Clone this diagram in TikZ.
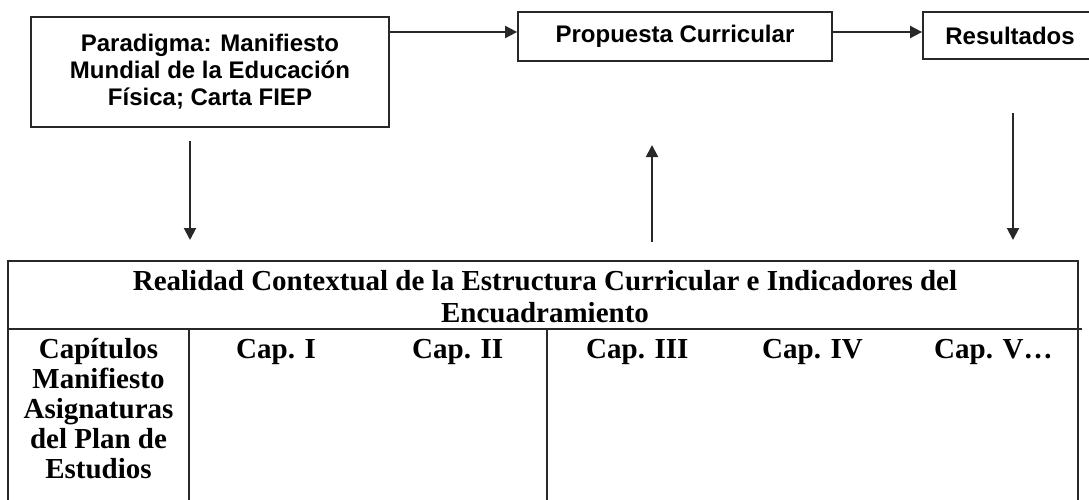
\documentclass[tikz,border=0pt]{standalone}
\usepackage{fontspec}
\setmainfont{Liberation Serif}
\setsansfont{Liberation Sans}
\usetikzlibrary{arrows.meta}
\definecolor{lc}{RGB}{40,40,40}
\begin{document}
\begin{tikzpicture}[x=1pt,y=-1pt,
  box/.style={draw=lc, line width=1.8pt, inner sep=0pt, font=\sffamily\bfseries\fontsize{24}{27}\selectfont, align=center},
  arr/.style={draw=lc, line width=2pt, -{Triangle[width=12pt,length=12pt]}},
  tl/.style={draw=lc, line width=1.6pt},
  rtxt/.style={font=\bfseries\fontsize{29}{35}\selectfont, inner sep=0pt}
]
\useasboundingbox (0,0) rectangle (1089,499);
\begin{scope}
\clip (0,0) rectangle (1089,499);
% top boxes
\node[box, minimum width=358pt, minimum height=110pt] (para) at (210,72) {Paradigma: Manifiesto\\Mundial de la Educación\\Física; Carta FIEP};
\node[box, minimum width=314pt, minimum height=49pt] (prop) at (675,36.5) {Propuesta Curricular};
\node[box, minimum width=174pt, minimum height=47pt] (res) at (1010,35.5) {Resultados};
\draw[arr] (para.east |- 0,32) -- (prop.west |- 0,32);
\draw[arr] (prop.east |- 0,32) -- (res.west |- 0,32);
% vertical arrows
\coordinate (a1s) at (190,141); \coordinate (a1e) at (190,240);
\coordinate (a2s) at (652,242); \coordinate (a2e) at (652,145);
\coordinate (a3s) at (1013,113); \coordinate (a3e) at (1013,240);
\draw[arr] (a1s) -- (a1e);
\draw[arr] (a2s) -- (a2e);
\draw[arr] (a3s) -- (a3e);
% table
\draw[tl] (8,510) -- (8,261) -- (1078,261) -- (1078,510);
\draw[tl] (8,329) -- (1082,329);
\draw[tl] (189,329) -- (189,510);
\draw[tl] (547,329) -- (547,510);
% table texts
\node[rtxt, anchor=base] (h1) at (545,290) {Realidad Contextual de la Estructura Curricular e Indicadores del};
\node[rtxt, anchor=base] (h2) at (545,322) {Encuadramiento};
\node[rtxt, anchor=base] (c0) at (98.5,358) {Capítulos};
\node[rtxt, anchor=base] (c0b) at (98.5,388) {Manifiesto};
\node[rtxt, anchor=base] (c0c) at (98.5,418) {Asignaturas};
\node[rtxt, anchor=base] (c0d) at (98.5,448) {del Plan de};
\node[rtxt, anchor=base] (c0e) at (98.5,478) {Estudios};
\node[rtxt, anchor=base west] (c1) at (236,358) {Cap. I};
\node[rtxt, anchor=base west] (c2) at (412,358) {Cap. II};
\node[rtxt, anchor=base west] (c3) at (586,358) {Cap. III};
\node[rtxt, anchor=base west] (c4) at (762,358) {Cap. IV};
\node[rtxt, anchor=base west] (c5) at (934,358) {Cap. V…};
\end{scope}
\end{tikzpicture}
\end{document}
